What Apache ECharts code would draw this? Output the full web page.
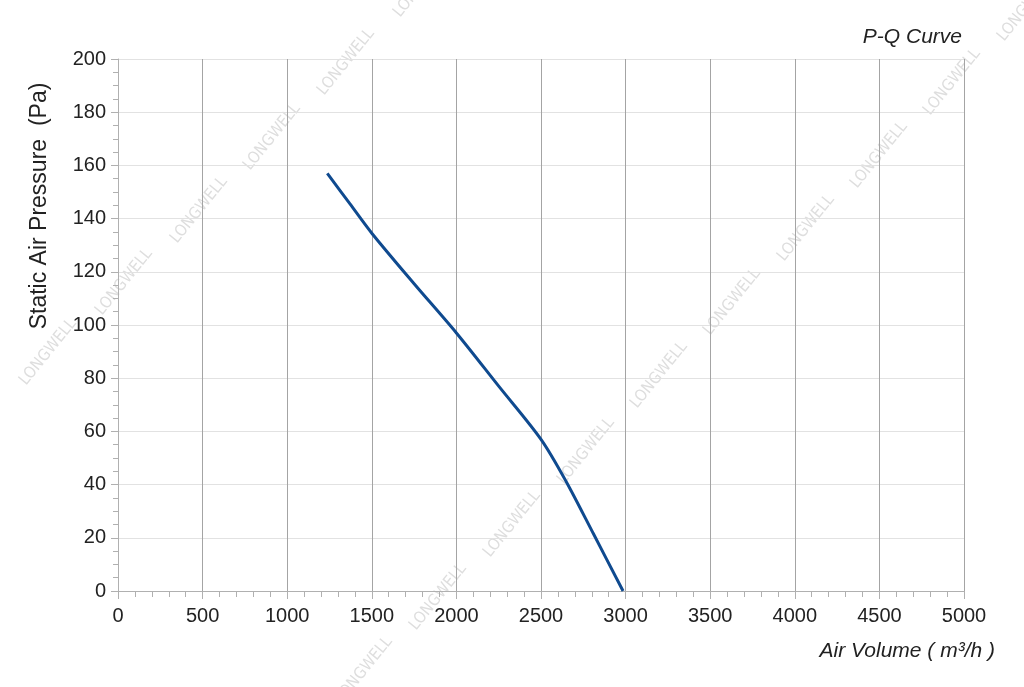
<!DOCTYPE html>
<html>
<head>
<meta charset="utf-8">
<script src="https://cdn.jsdelivr.net/npm/echarts@6/dist/echarts.min.js"></script>
<style>html,body{margin:0;padding:0;background:#fff}#c{width:1024px;height:687px}</style>
</head>
<body>
<div id="c"></div>
<script>
const airVolume = [1237, 1370, 1500, 1750, 2000, 2250, 2500, 2650, 2810, 2985];
const pressure  = [157, 145.6, 134.5, 115.5, 97, 77, 57, 41, 21.5, 0];
const xTitle = 'Air Volume ( m³/h )';
const yTitle = 'Static Air Pressure  (Pa)';
const chartTitle = 'P-Q Curve';
const watermark = 'LONGWELL';

const chart = echarts.init(document.getElementById('c'));
const marks = [[48,352],[124,282],[199,210],[272,137],[346,62],[422,-16],
  [364,670],[438,597],[512,524],[586,451],[659,375],[732,302],[806,228],[879,155],[952,82],[1026,8]];
const graphics = marks.map(p => ({
  type:'text', x:p[0], y:p[1], rotation:0.89, z:-1,
  style:{text:watermark, fill:'#dedede', font:'16px "Liberation Sans Narrow", "DejaVu Sans Condensed", sans-serif', align:'center', verticalAlign:'middle'}
}));
graphics.push({type:'text', x:40, y:206, rotation:Math.PI/2,
  style:{text:yTitle, fill:'#222', font:'23px "Liberation Sans", Arial', align:'center', verticalAlign:'middle'}});
graphics.push({type:'text', x:962, y:37,
  style:{text:chartTitle, fill:'#222', font:'italic 21px "Liberation Sans", Arial', align:'right', verticalAlign:'middle'}});
graphics.push({type:'text', x:995, y:651,
  style:{text:xTitle, fill:'#222', font:'italic 21px "Liberation Sans", Arial', align:'right', verticalAlign:'middle'}});

chart.setOption({
  animation:false,
  grid:{left:118, right:60, top:59, bottom:96},
  graphic: graphics,
  xAxis:{
    type:'value', min:0, max:5000, interval:500,
    axisLine:{show:true, lineStyle:{color:'#b0b0b0', width:1}},
    axisTick:{show:true, length:8, lineStyle:{color:'#b0b0b0'}},
    minorTick:{show:true, splitNumber:5, length:6, lineStyle:{color:'#b0b0b0'}},
    splitLine:{show:true, lineStyle:{color:'#a4a4a4', width:1}},
    axisLabel:{color:'#222', fontSize:20, margin:15, fontFamily:'"Liberation Sans", Arial', formatter:v=>String(v)}
  },
  yAxis:{
    type:'value', min:0, max:200, interval:20,
    axisLine:{show:true, lineStyle:{color:'#b0b0b0', width:1}},
    axisTick:{show:true, length:7, lineStyle:{color:'#b0b0b0'}},
    minorTick:{show:true, splitNumber:4, length:5, lineStyle:{color:'#b0b0b0'}},
    splitLine:{show:true, lineStyle:{color:'#e2e2e2', width:1}},
    axisLabel:{color:'#222', fontSize:20, margin:12, fontFamily:'"Liberation Sans", Arial'}
  },
  series:[{
    type:'line', smooth:0.3, symbol:'none',
    data: airVolume.map((v,i)=>[v, pressure[i]]),
    lineStyle:{color:'#0f4a8f', width:3}
  }]
});
</script>
</body>
</html>
